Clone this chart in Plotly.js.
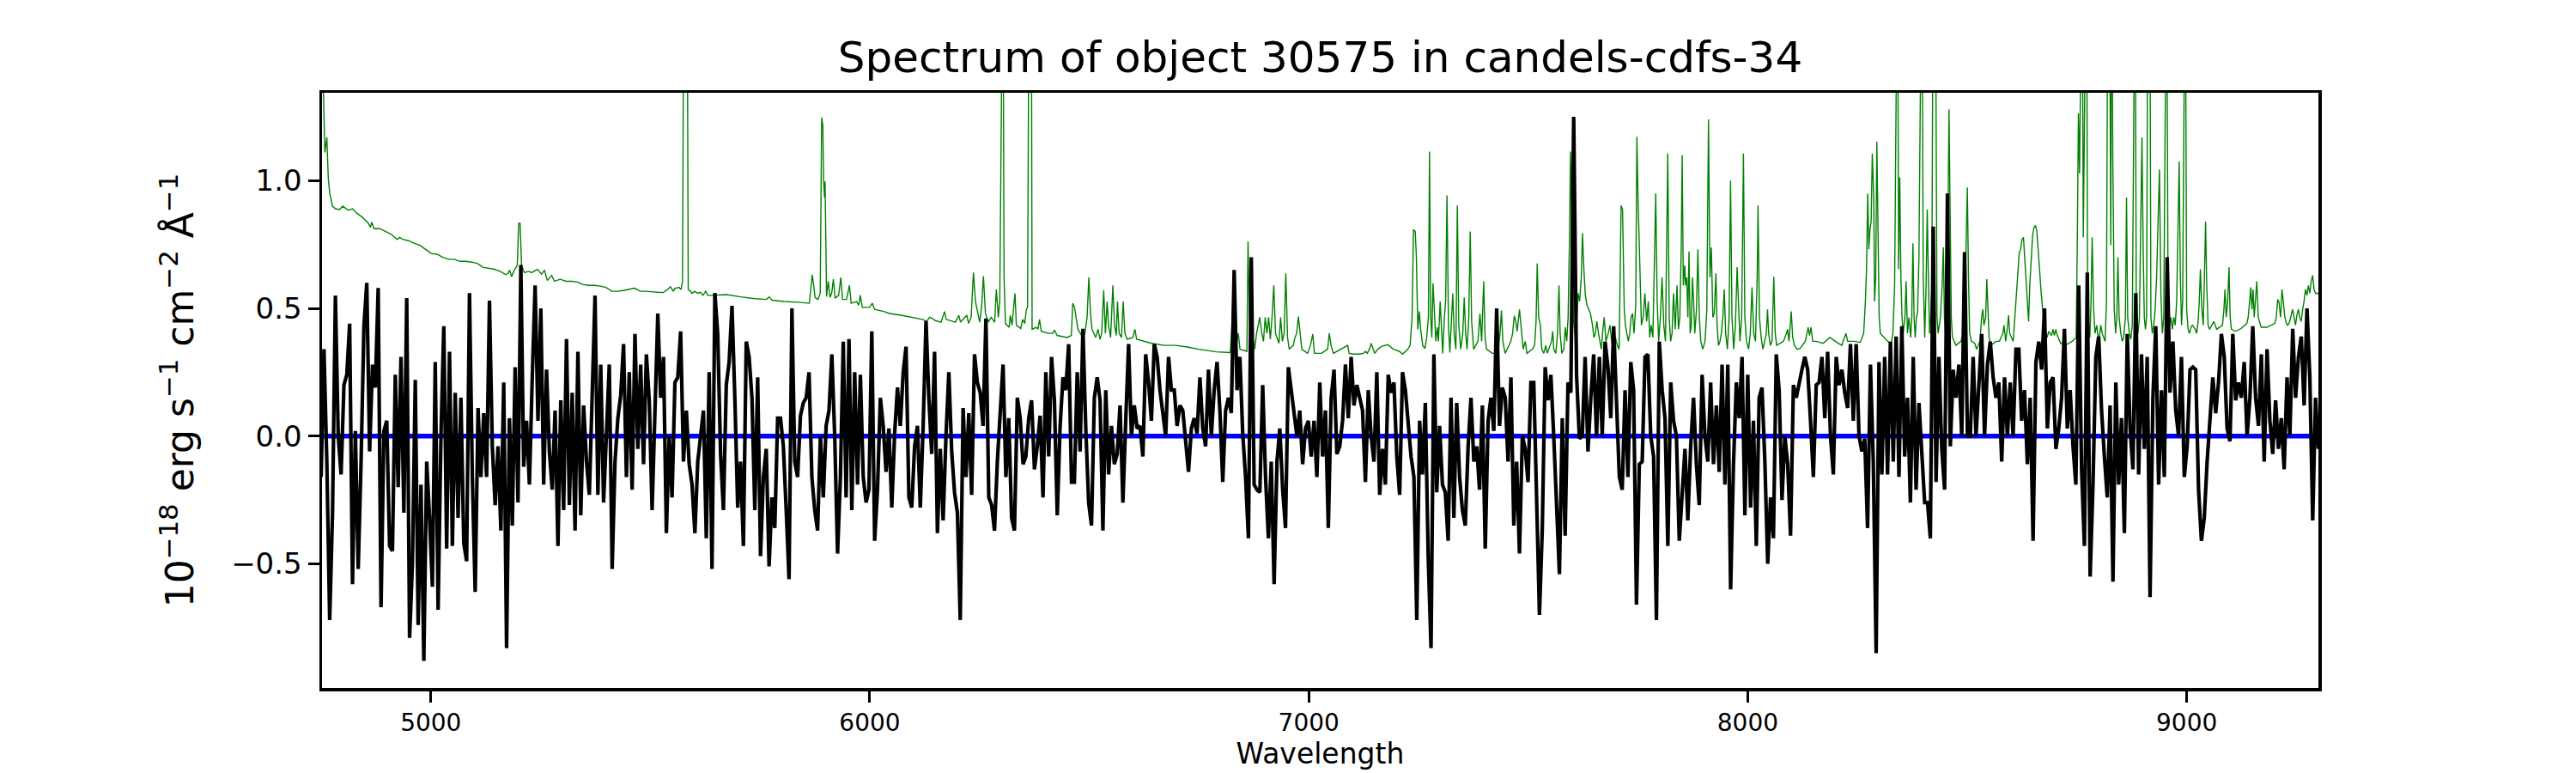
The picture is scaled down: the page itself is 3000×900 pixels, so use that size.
<!DOCTYPE html>
<html>
<head>
<meta charset="utf-8">
<script src="https://cdn.plot.ly/plotly-3.0.1.min.js"></script>
<style>html,body{margin:0;padding:0;background:#fff;}#chart{width:3000px;height:900px;}</style>
</head>
<body>
<div id="chart"></div>
<script>
// ---- data ----
const chartTitle = "Spectrum of object 30575 in candels-cdfs-34";
const xLabel = "Wavelength";
const yLabel = "10<sup>\u221218</sup> erg s<sup>\u22121</sup> cm<sup>\u22122</sup> \u00c5<sup>\u22121</sup>";
const xRange = [4752, 9300];
const yRange = [-0.986, 1.344];
const xTickValues = [5000, 6000, 7000, 8000, 9000];
const yTickValues = [-0.5, 0.0, 0.5, 1.0];

// object flux: uniform wavelength grid starting at fluxStart with spacing fluxStep (Angstrom)
const fluxStart = 4750;
const fluxStep = 6.5;
const objectFlux = [
-0.16,0.34,-0.1,-0.72,-0.3,0.55,0.0,-0.15,0.2,0.24,
0.44,-0.58,0.02,-0.52,-0.1,0.43,0.6,-0.06,0.28,0.19,
0.58,-0.67,0.02,0.06,-0.43,-0.45,0.24,-0.2,0.31,-0.3,
0.54,-0.79,-0.5,0.22,-0.74,-0.19,-0.88,-0.1,-0.32,-0.59,
0.29,-0.68,0.0,0.43,-0.44,0.33,-0.43,0.17,-0.32,0.15,
-0.42,-0.49,0.56,-0.16,-0.61,0.11,-0.16,0.09,-0.16,
0.53,-0.04,-0.27,-0.04,-0.37,0.21,-0.83,0.07,-0.35,0.27,
-0.26,0.67,-0.12,0.06,-0.19,0.23,0.59,0.06,0.5,-0.19,
0.26,-0.06,-0.21,0.1,-0.43,0.14,-0.29,0.38,-0.27,0.17,
-0.37,0.33,-0.31,0.12,-0.1,-0.23,0.2,0.55,-0.23,0.28,
-0.26,0.01,0.28,-0.52,-0.1,0.07,0.16,0.36,-0.16,0.25,
-0.21,0.4,-0.05,0.28,-0.11,0.32,0.14,-0.29,0.07,0.48,
0.15,0.31,-0.38,0,-0.24,0.21,
0.23,0.41,-0.1,0.1,-0.11,-0.19,-0.38,-0.1,0.0,0.1,
-0.4,0.25,-0.52,0.56,0.4,-0.07,-0.29,0.2,0.29,0.51,
0.15,-0.28,-0.1,-0.43,0.37,0.31,0.15,-0.29,0.23,-0.47,
-0.16,-0.05,-0.51,-0.24,-0.36,0.07,0.07,-0.04,-0.29,-0.56,
0.5,-0.1,-0.16,0.08,0.13,0.15,0.25,-0.16,-0.29,-0.37,
0.0,-0.24,0.04,0.1,0.32,0.0,-0.46,-0.16,0.37,-0.24,
0.38,-0.29,0.25,-0.19,0.24,-0.16,-0.26,-0.21,0.41,-0.41,
-0.21,0.15,0.04,-0.14,0.03,-0.28,0.01,0.19,0.04,0.25,
0.35,-0.24,-0.28,-0.04,0.04,-0.28,0.04,0.45,0.15,-0.07,
0.33,-0.38,-0.05,-0.33,0.0,0.25,-0.06,-0.22,-0.3,-0.72,
0.11,-0.16,0.09,-0.23,0.32,0.21,0.17,0.04,0.46,-0.24,
-0.27,-0.37,-0.1,0.07,0.28,-0.16,0.07,-0.32,
-0.37,0.15,0.07,-0.11,-0.08,0.07,0.14,-0.13,-0.04,0.08,
-0.24,0.25,-0.08,0.31,0.14,-0.31,0.04,0.23,0.18,0.36,
-0.18,-0.18,0.25,-0.06,0.42,0.03,-0.26,-0.35,0.15,0.23,
0.14,-0.37,0.18,-0.15,0.04,-0.11,-0.07,0.12,-0.26,0.06,
0.36,0.0,0.12,0.03,0.04,-0.08,0.32,0.21,0.06,0.36,
0.31,0.18,0.1,0.0,0.31,0.18,0.18,0.04,0.12,0.1,
-0.02,-0.14,0.03,0.07,0.01,0.23,0.03,-0.04,0.26,0.0,
0.18,0.29,0.1,-0.18,0.1,0.15,0.09,0.65,0.18,0.31,
0.01,-0.16,-0.4,0.7,-0.19,-0.21,-0.22,0.2,-0.16,-0.4,
-0.1,-0.58,-0.1,0.03,-0.21,-0.36,0.27,0.17,0.09,0.0,
0.1,-0.11,0.03,0.06,-0.08,0.06,-0.16,0.21,-0.08,0.1,
-0.36,0.15,0.26,-0.07,-0.04,0.06,0.28,
0.07,0.31,0.12,0.2,0.15,0.1,-0.18,0.18,0.0,-0.1,
0.25,-0.23,-0.05,-0.19,0.24,0.17,0.21,-0.08,-0.23,0.25,
0.18,0.06,-0.08,-0.16,-0.72,0.06,-0.15,0.13,-0.47,-0.83,
0.32,-0.22,0.04,-0.19,-0.22,-0.41,0.15,-0.32,0.13,-0.16,
-0.29,-0.35,-0.04,0.15,-0.1,-0.04,-0.21,0.12,-0.44,0.06,
0.15,0.02,0.5,0.04,0.19,0.15,-0.1,0.23,-0.35,-0.1,
-0.46,0.0,-0.05,-0.18,0.21,0.21,-0.32,-0.7,-0.36,0.27,
0.14,0.24,0.0,-0.27,-0.54,0.07,-0.39,0.21,0.17,1.25,
0.24,-0.01,0.0,0.31,-0.06,0.15,0.32,0.0,0.31,0.0,
0.37,0.27,0.07,0.43,0.12,-0.16,-0.21,0.18,-0.16,0.29,
0.18,-0.66,-0.11,-0.1,0.31,0.32,0.0,-0.08,-0.72,0.37,
0.18,0.07,-0.43,0.21,0.06,0.0,-0.41,
-0.24,-0.05,-0.33,-0.04,0.15,-0.11,-0.27,0.24,0.0,-0.1,
0.21,-0.11,0.12,-0.14,0.28,-0.19,0.28,-0.6,-0.11,0.21,
0.07,0.31,-0.31,0.24,-0.28,0.06,-0.43,0.15,0.19,-0.1,
-0.5,-0.24,-0.4,0.32,0.18,-0.25,0.0,-0.11,-0.39,0.2,
0.15,0.21,0.26,0.31,0.26,0.06,-0.16,0.2,0.21,0.31,
0.07,0.33,0.0,-0.15,0.31,0.2,0.26,0.17,0.11,0.36,
0.06,0.36,0.0,-0.06,-0.01,-0.36,0.28,-0.1,-0.85,0.29,
-0.15,0.31,-0.15,0.37,-0.1,0.39,-0.16,0.43,-0.08,0.15,
-0.26,0.31,-0.21,0.13,-0.1,-0.26,-0.26,-0.4,0.82,-0.18,
0.31,-0.05,-0.21,0.95,-0.04,0.26,0.15,0.28,0.0,0.72,
0.0,0.0,0.31,0.0,0.2,0.4,0.0,0.28,0.37,0.23,
0.15,0.21,-0.1,0.23,0.0,0.21,0.0,0.34,
0.34,0.06,0.18,-0.11,0.15,-0.41,0.29,0.37,0.26,0.5,
0.03,0.21,0.23,-0.05,0.03,0.15,0.42,0.03,0.18,-0.04,
-0.19,0.59,-0.13,-0.43,0.64,-0.55,-0.19,0.31,0.39,0.1,
-0.08,-0.24,0.12,-0.57,0.21,-0.19,0.07,-0.38,0.4,0.03,
-0.13,0.56,-0.15,0.32,-0.05,0.31,-0.63,0.15,0.43,-0.19,
0.18,-0.16,0.7,0.17,0.37,0.1,0.0,0.31,-0.16,-0.04,
0.26,0.27,0.26,-0.21,-0.41,-0.32,-0.1,0.07,0.23,0.09,
0.21,0.4,0.31,0.03,-0.02,0.4,0.14,0.21,0.15,0.29,
0.0,0.15,0.43,0.15,0.04,0.32,-0.1,0.34,0.06,-0.07,
0.14,-0.05,0.07,-0.13,0.23,0.0,0.42,0.15,0.31,0.39,
0.12,0.5,0.23,-0.33,0.15,-0.05
];

// error / sky spectrum as [wavelength, flux] pairs (values above the top are clipped sky lines)
const errorSpectrum = [
[4750,1.6],[4754.6,1.4],[4758.5,1.11],[4763,1.17],[4766.3,1.01],[4769.6,0.95],[4776,0.9],[4782.6,0.89],
[4792.4,0.887],[4798.9,0.9],[4812,0.884],[4821.7,0.89],[4831.5,0.872],[4844.6,0.856],[4857.6,0.833],
[4862.2,0.817],[4865.4,0.837],[4870.7,0.812],[4883.7,0.812],[4896.8,0.801],[4909.8,0.79],[4922.8,0.77],
[4929,0.778],[4935.9,0.77],[4948.9,0.765],[4962,0.755],[4975,0.747],[4988.1,0.731],[5001.1,0.715],
[5014.2,0.712],[5027.2,0.7],[5040.3,0.692],[5053.3,0.692],[5066.4,0.684],[5079.4,0.684],[5092.4,0.681],
[5105.5,0.676],[5118.5,0.661],[5131.6,0.656],[5144.6,0.653],[5157.7,0.645],[5170.7,0.632],[5176,0.637],
[5179.2,0.65],[5183.8,0.624],[5190.3,0.65],[5196.8,0.668],[5200.1,0.833],[5203.3,0.833],[5206.6,0.668],
[5213.1,0.64],[5222.9,0.645],[5229.4,0.64],[5242.5,0.653],[5252.3,0.634],[5258.8,0.65],[5265.3,0.609],
[5275.1,0.629],[5281.6,0.606],[5294.7,0.614],[5307.7,0.606],[5320.7,0.606],[5333.8,0.603],[5346.8,0.593],
[5359.9,0.59],[5372.9,0.59],[5386,0.587],[5399,0.582],[5412,0.567],[5425.1,0.567],[5438.2,0.57],
[5451.2,0.574],[5464.2,0.579],[5477.3,0.567],[5490.3,0.567],[5516.4,0.563],[5529.5,0.562],[5539.3,0.574],
[5545.8,0.585],[5552.3,0.567],[5555.6,0.578],[5565.4,0.582],[5570,0.574],[5573.3,0.606],[5576.5,2.0],
[5583.7,2.0],[5586.3,0.574],[5591.5,0.567],[5594.8,0.559],[5601.3,0.567],[5607.8,0.559],[5614.4,0.563],
[5619.6,0.551],[5626.1,0.567],[5630.7,0.551],[5640.4,0.551],[5673.1,0.554],[5705.7,0.545],[5738.3,0.538],
[5764.4,0.535],[5770.9,0.545],[5777.4,0.532],[5803.5,0.527],[5836.1,0.524],[5855.7,0.52],[5862.2,0.52],
[5865.5,0.574],[5868.8,0.632],[5872,0.59],[5875.3,0.543],[5881.8,0.535],[5887,0.559],[5890.3,1.247],
[5892.9,1.216],[5894.8,0.997],[5896.8,0.934],[5898.1,0.997],[5901.4,0.546],[5905.3,0.606],[5909.2,0.543],
[5913.1,0.559],[5917,0.614],[5920.9,0.54],[5928.8,0.551],[5934,0.621],[5937.9,0.535],[5947,0.535],
[5953.6,0.59],[5957.5,0.52],[5969.9,0.527],[5974.4,0.512],[5978.3,0.551],[5982.9,0.504],[5999.2,0.504],
[6005.7,0.52],[6011,0.496],[6031.8,0.488],[6044.8,0.48],[6070.9,0.473],[6097.1,0.465],[6119.9,0.457],
[6129.7,0.449],[6136.2,0.465],[6142.7,0.46],[6149.2,0.452],[6162.3,0.446],[6170.1,0.488],[6174,0.457],
[6194.9,0.446],[6202.7,0.473],[6206.6,0.446],[6221,0.473],[6224.9,0.441],[6230.8,0.465],[6236,0.64],
[6240.6,0.527],[6250.4,0.446],[6254.9,0.512],[6258.8,0.626],[6263.4,0.48],[6269.9,0.446],[6276.4,0.465],
[6284.3,0.446],[6288.2,0.574],[6292.7,0.465],[6296,0.527],[6299.3,2.0],[6303.2,2.0],[6305.8,0.621],
[6309,0.44],[6317.5,0.426],[6320.1,0.473],[6324,0.434],[6330.6,0.559],[6333.9,0.434],[6343.6,0.421],
[6348.2,0.457],[6352.8,0.441],[6356.7,0.496],[6359.3,0.504],[6363.2,2.0],[6367.8,2.0],[6369.7,0.418],
[6378.9,0.426],[6382.8,0.418],[6386.7,0.457],[6390.6,0.41],[6406.9,0.402],[6416.7,0.402],[6420.6,0.415],
[6426.5,0.394],[6449.3,0.386],[6459.1,0.394],[6462.3,0.52],[6466.3,0.504],[6470.2,0.465],[6474.1,0.418],
[6485.2,0.386],[6489.8,0.402],[6495,0.465],[6498.9,0.621],[6502.8,0.48],[6506.1,0.418],[6514.6,0.386],
[6519.8,0.418],[6524.3,0.379],[6528.2,0.402],[6532.8,0.571],[6536.7,0.402],[6540.6,0.527],[6543.9,0.434],
[6548.5,0.386],[6553.7,0.59],[6557.6,0.434],[6561.5,0.394],[6564.1,0.527],[6568,0.402],[6573.2,0.386],
[6577.2,0.527],[6581.1,0.402],[6586.3,0.379],[6599.3,0.386],[6603.9,0.418],[6607.8,0.379],[6625.4,0.371],
[6641.7,0.363],[6671.1,0.355],[6697.2,0.355],[6723.3,0.349],[6749.4,0.34],[6788.5,0.33],[6814.6,0.327],
[6821.1,0.327],[6824.4,0.418],[6827.6,0.567],[6831.6,0.465],[6835.5,0.363],[6839.4,0.402],[6843.3,0.34],
[6859,0.332],[6861.6,0.762],[6864.8,0.465],[6868.1,0.355],[6872,0.386],[6876.6,0.34],[6881.1,0.402],
[6885,0.434],[6888.3,0.465],[6892.9,0.402],[6896.8,0.371],[6900.7,0.465],[6904.6,0.402],[6908.5,0.465],
[6912.4,0.379],[6916.4,0.468],[6920.3,0.59],[6924.2,0.402],[6932,0.363],[6935.9,0.465],[6939.8,0.371],
[6943.8,0.402],[6947.7,0.637],[6951.6,0.386],[6955.5,0.34],[6964.6,0.355],[6968.5,0.386],[6972.4,0.402],
[6976.4,0.468],[6980.3,0.402],[6984.2,0.34],[6997.2,0.324],[7003.8,0.355],[7009,0.399],[7012.9,0.324],
[7029.2,0.324],[7042.9,0.34],[7046.8,0.402],[7050.7,0.355],[7056,0.324],[7072.3,0.34],[7088.6,0.355],
[7092,0.324],[7101.6,0.321],[7114.7,0.321],[7124.4,0.324],[7129,0.332],[7133,0.324],[7138.1,0.34],
[7142.1,0.363],[7146,0.343],[7150.5,0.324],[7157.1,0.34],[7166.8,0.352],[7179.9,0.358],[7192.9,0.34],
[7206,0.332],[7213.8,0.321],[7225.5,0.34],[7230.8,0.355],[7235.3,0.465],[7238.6,0.809],[7242.5,0.801],
[7245.1,0.7],[7248.4,0.418],[7251.6,0.488],[7254.9,0.418],[7259.5,0.355],[7264.7,0.343],[7268.6,0.386],
[7272.5,0.465],[7275.1,1.114],[7277.7,0.465],[7280.3,0.386],[7283,0.598],[7286.2,0.465],[7289.5,0.371],
[7292.7,0.426],[7295.3,0.371],[7299.3,0.527],[7302.5,0.402],[7305.1,0.324],[7309,0.465],[7311.7,0.527],
[7314.9,0.942],[7318.2,0.434],[7321.4,0.327],[7324.7,0.465],[7328,0.559],[7331.2,0.402],[7335.1,0.34],
[7338.4,0.903],[7341.7,0.434],[7346.2,0.34],[7350.8,0.402],[7354.1,0.543],[7357.3,0.402],[7360.6,0.34],
[7364.5,0.465],[7367.8,0.801],[7371,0.449],[7375.6,0.34],[7385.4,0.371],[7389.9,0.48],[7393.8,0.371],
[7398.4,0.606],[7401.7,0.386],[7404.9,0.34],[7418,0.324],[7431,0.324],[7435.6,0.402],[7438.9,0.492],
[7442.1,0.371],[7447.3,0.324],[7460.4,0.371],[7464.3,0.402],[7468.2,0.471],[7471.5,0.449],[7474.7,0.41],
[7480,0.496],[7484.5,0.402],[7488.4,0.34],[7493,0.371],[7496.9,0.324],[7509.3,0.34],[7514.5,0.355],
[7517.8,0.449],[7520.4,0.676],[7523.6,0.465],[7527.6,0.434],[7530.8,0.34],[7535.4,0.324],[7540,0.355],
[7543.2,0.324],[7553,0.371],[7555.6,0.41],[7558.2,0.34],[7562.8,0.324],[7566.7,0.402],[7570,0.59],
[7572.6,0.402],[7576.5,0.324],[7581.1,0.34],[7584.3,0.426],[7587.6,0.371],[7590.8,0.465],[7594.1,0.794],
[7596.1,1.114],[7598.7,0.856],[7602.6,0.465],[7607.1,0.386],[7610.4,0.449],[7613.7,0.559],[7616.9,0.527],
[7620.8,0.621],[7623.5,0.794],[7626.7,0.653],[7630,0.551],[7633.9,0.512],[7637.8,0.496],[7641.7,0.48],
[7646.3,0.434],[7649.5,0.386],[7652.8,0.402],[7656.1,0.449],[7660,0.402],[7663.9,0.371],[7666.5,0.34],
[7669.1,0.402],[7673,0.465],[7676.9,0.371],[7682.2,0.402],[7686.1,0.434],[7690,0.371],[7693.9,0.34],
[7698.5,0.386],[7703,0.355],[7707,0.34],[7711.5,0.903],[7714.8,0.887],[7718.7,0.496],[7721.3,0.434],
[7724.6,0.402],[7727.8,0.371],[7731.1,0.402],[7734.3,0.465],[7737.6,0.48],[7740.9,0.402],[7744.8,0.512],
[7747.4,1.172],[7750,0.934],[7753.9,0.653],[7757.8,0.434],[7761.7,0.465],[7765.7,0.559],[7769.6,0.449],
[7773.5,0.527],[7776.7,0.386],[7780,0.434],[7783.9,0.386],[7787.2,0.621],[7790.4,0.95],[7793.7,0.527],
[7797,0.371],[7800.9,0.465],[7804.8,0.621],[7808.7,0.434],[7812.6,0.371],[7817.8,1.106],[7821.1,0.465],
[7824.3,0.371],[7827.6,0.402],[7830.9,0.559],[7834.8,0.418],[7838.8,0.59],[7842.1,0.418],[7845.3,0.465],
[7848.6,0.747],[7850.6,1.099],[7853.2,0.59],[7856.4,0.668],[7858.4,0.59],[7861,0.621],[7863.6,0.465],
[7866.2,0.723],[7868.8,0.402],[7871.4,0.434],[7874.1,0.621],[7876.7,0.527],[7879.3,0.402],[7883.2,0.496],
[7886.4,0.731],[7889.7,0.465],[7893,0.371],[7897.5,0.34],[7902.7,0.371],[7906.7,0.496],[7910.6,1.24],
[7913.8,0.621],[7917.1,0.739],[7920.4,0.465],[7923.6,0.48],[7927.5,0.637],[7930.1,0.434],[7933.4,0.355],
[7936.7,0.371],[7939.9,0.402],[7943.2,0.465],[7946.5,0.574],[7949.7,0.402],[7953.6,0.34],[7957.5,0.465],
[7960.8,1.0],[7964.1,0.465],[7968,0.34],[7971.9,0.434],[7975.8,0.661],[7979.1,0.496],[7982.3,0.371],
[7986.2,0.465],[7990.2,1.106],[7993.4,0.465],[7997.3,0.371],[8001.9,0.34],[8005.8,0.402],[8009.7,0.582],
[8013.6,0.402],[8017.6,0.371],[8021.5,0.621],[8023.4,0.903],[8026.7,0.465],[8030.6,0.386],[8034.5,0.34],
[8038.4,0.371],[8042.3,0.402],[8045,0.496],[8047.6,0.402],[8051.5,0.355],[8055.4,0.371],[8059.3,0.624],
[8062.6,0.402],[8065.8,0.355],[8073.7,0.363],[8081.5,0.371],[8088,0.402],[8090.6,0.418],[8093.9,0.371],
[8096.5,0.449],[8099.1,0.488],[8102.4,0.386],[8106.3,0.355],[8112.8,0.34],[8119.3,0.343],[8131.1,0.371],
[8134.3,0.402],[8137.6,0.426],[8140.8,0.394],[8144.1,0.426],[8148,0.371],[8155.8,0.371],[8171.5,0.363],
[8187.2,0.386],[8202.8,0.367],[8214.5,0.355],[8217.2,0.371],[8221.1,0.386],[8223.7,0.402],[8227.6,0.371],
[8243.3,0.371],[8256.3,0.367],[8260.2,0.386],[8264.1,0.402],[8268,0.527],[8270.6,0.653],[8273.3,0.95],
[8275.9,0.731],[8278.5,0.809],[8281.1,0.84],[8283.7,1.106],[8287,0.934],[8288.9,0.527],[8291.5,0.621],
[8294.1,1.153],[8296.7,0.778],[8299.4,0.465],[8302,0.402],[8309.8,0.386],[8318.9,0.371],[8326.7,0.363],
[8330.7,0.402],[8334.6,0.59],[8338.5,2.0],[8341.1,2.0],[8343.7,0.653],[8346.3,1.013],[8348.9,0.621],
[8351.5,0.465],[8354.1,0.402],[8358.1,0.465],[8360.7,0.606],[8363.9,0.402],[8367.2,0.465],[8371.1,0.386],
[8373.7,0.465],[8376.3,0.755],[8378.9,0.465],[8381.5,0.386],[8384.2,0.465],[8386.8,0.48],[8390,0.7],
[8393.3,2.0],[8396.5,2.0],[8399.8,0.621],[8403.1,0.386],[8406.3,0.59],[8408.9,0.887],[8411.5,0.621],
[8414.2,0.402],[8416.8,0.465],[8419.4,0.59],[8422.6,2.0],[8427.2,2.0],[8431.1,0.465],[8433.7,0.402],
[8436.3,0.434],[8438.9,0.465],[8442.8,0.59],[8445.5,0.739],[8448.1,0.465],[8450.7,0.386],[8453.3,0.465],
[8455.9,0.778],[8458.5,1.279],[8461.1,0.934],[8463.7,0.465],[8466.4,0.386],[8474.2,0.355],[8485.9,0.371],
[8489.8,0.402],[8493.8,0.465],[8497.7,0.856],[8500.3,0.973],[8502.9,0.621],[8505.5,0.402],[8509.4,0.371],
[8517.2,0.363],[8521.1,0.34],[8525.1,0.355],[8529,0.371],[8532.9,0.465],[8535.5,0.496],[8538.1,0.434],
[8542,0.465],[8544.6,0.614],[8547.2,0.465],[8549.8,0.386],[8553.8,0.355],[8565.5,0.371],[8573.3,0.371],
[8581.1,0.402],[8583.7,0.434],[8587.7,0.371],[8591.6,0.426],[8594.2,0.473],[8596.8,0.402],[8600.7,0.386],
[8604.6,0.371],[8608.5,0.465],[8612.4,0.574],[8615.1,0.637],[8618.3,0.715],[8621.6,0.731],[8624.8,0.77],
[8628.1,0.778],[8631.3,0.684],[8634.6,0.574],[8637.9,0.465],[8639.8,0.449],[8642.4,0.59],[8645.7,0.715],
[8649,0.786],[8652.2,0.817],[8655.5,0.825],[8658.7,0.801],[8662,0.715],[8665.3,0.606],[8668.5,0.559],
[8671.8,0.496],[8675,0.441],[8679,0.402],[8682.2,0.386],[8685.5,0.41],[8688.8,0.402],[8692,0.394],
[8695.3,0.418],[8698.5,0.394],[8701.8,0.418],[8705.1,0.394],[8712.9,0.363],[8725.9,0.358],[8739,0.371],
[8748.1,0.386],[8750.7,0.747],[8753.3,1.263],[8755.9,1.028],[8758.5,2.0],[8761.8,2.0],[8764.4,0.778],
[8767,2.0],[8771.6,2.0],[8774.2,0.621],[8776.8,0.434],[8779.4,0.386],[8782,0.527],[8784.6,0.778],
[8787.9,0.496],[8791.2,0.402],[8795.1,0.434],[8797.7,0.394],[8800.9,0.386],[8804.2,0.434],[8807.5,0.402],
[8814,0.371],[8817.3,0.527],[8820.5,2.0],[8823.8,2.0],[8827,0.747],[8829,2.0],[8831.6,1.091],
[8834.9,0.496],[8838.1,0.402],[8840.7,0.465],[8843.3,0.7],[8846,0.465],[8849.9,0.402],[8853.1,0.371],
[8856.4,0.386],[8860.3,0.465],[8862.9,0.934],[8865.5,0.465],[8869.4,0.402],[8872.7,0.379],[8876,0.434],
[8879.2,2.0],[8882.5,2.0],[8885.1,0.465],[8889,0.402],[8892.3,0.465],[8895.5,0.903],[8898.1,1.169],
[8900.7,0.747],[8903.4,0.465],[8906,0.418],[8908.6,0.465],[8911.8,2.0],[8915.8,2.0],[8918.4,0.465],
[8921.6,0.402],[8924.9,0.434],[8928.1,0.496],[8931.4,0.621],[8934.7,0.887],[8937.9,1.044],[8941.2,0.559],
[8944.5,0.402],[8947.7,0.465],[8951,2.0],[8954.2,2.0],[8957.5,0.527],[8960.8,0.434],[8964,0.465],
[8967.3,0.418],[8970.6,0.465],[8973.8,0.434],[8977.1,0.527],[8980.3,0.84],[8982.9,1.075],[8985.5,0.621],
[8988.2,0.434],[8990.8,0.527],[8993.4,2.0],[8996.6,2.0],[8999.9,0.496],[9003.2,0.418],[9006.4,0.402],
[9009.7,0.426],[9012.9,0.434],[9019.5,0.418],[9022.7,0.402],[9026,0.449],[9028.6,0.527],[9031.2,0.653],
[9034.5,0.496],[9037.7,0.434],[9040.3,0.621],[9042.9,0.84],[9045.6,0.59],[9048.8,0.434],[9052.1,0.418],
[9061.9,0.449],[9068.4,0.418],[9081.4,0.434],[9084.7,0.496],[9087.3,0.574],[9089.9,0.465],[9093.2,0.527],
[9096.4,0.661],[9099,0.465],[9101.7,0.418],[9110.8,0.41],[9123.8,0.421],[9136.9,0.441],[9140.1,0.465],
[9143.4,0.543],[9146,0.582],[9148.6,0.496],[9151.2,0.574],[9153.8,0.465],[9156.4,0.527],[9159.7,0.606],
[9163,0.465],[9169.5,0.426],[9182.5,0.426],[9195.6,0.437],[9200.8,0.441],[9204.1,0.465],[9207.3,0.535],
[9209.9,0.527],[9213.9,0.465],[9217.1,0.574],[9220.4,0.512],[9223.6,0.465],[9226.9,0.441],[9230.2,0.434],
[9234.7,0.449],[9238.6,0.48],[9241.2,0.496],[9244.5,0.465],[9247.8,0.434],[9251,0.473],[9254.3,0.496],
[9257.5,0.465],[9260.8,0.449],[9264.1,0.496],[9267.3,0.527],[9270.6,0.574],[9273.9,0.551],[9277.1,0.59],
[9280.4,0.559],[9283.6,0.606],[9286.9,0.629],[9290.1,0.574],[9293.4,0.559],[9299.9,0.559]
];

const zeroLevel = [0, 0];

// ---- build traces ----
const fluxWave = objectFlux.map((_, i) => fluxStart + i * fluxStep);
const errWave = errorSpectrum.map(p => p[0]);
const errFlux = errorSpectrum.map(p => p[1]);

const font = "DejaVu Sans, Liberation Sans, sans-serif";
const traces = [
  {x: errWave, y: errFlux, type: "scatter", mode: "lines",
   line: {color: "#008000", width: 1.4}, hoverinfo: "skip"},
  {x: xRange, y: zeroLevel, type: "scatter", mode: "lines",
   line: {color: "#0000ff", width: 5.5}, hoverinfo: "skip"},
  {x: fluxWave, y: objectFlux, type: "scatter", mode: "lines",
   line: {color: "#000000", width: 4.2}, hoverinfo: "skip"}
];

const layout = {
  width: 3000, height: 900,
  margin: {l: 375, r: 300, t: 108, b: 99, pad: 0},
  paper_bgcolor: "#ffffff", plot_bgcolor: "#ffffff",
  showlegend: false,
  font: {family: font, color: "#000000"},
  title: {text: chartTitle, font: {family: font, size: 50, color: "#000000"},
          x: 0.5, xref: "paper", xanchor: "center", y: 1 - 66/900, yref: "container", yanchor: "middle"},
  xaxis: {
    range: xRange, tickvals: xTickValues, ticktext: xTickValues.map(String),
    ticks: "outside", ticklen: 13, tickwidth: 3, tickcolor: "#000",
    showline: true, linecolor: "#000", linewidth: 3.5, mirror: true,
    showgrid: false, zeroline: false,
    tickfont: {family: font, size: 28, color: "#000"},
    title: {text: xLabel, font: {family: font, size: 33, color: "#000"}, standoff: 4}
  },
  yaxis: {
    range: yRange, tickvals: yTickValues, ticktext: yTickValues.map(v => (v < 0 ? "\u2212" : "") + Math.abs(v).toFixed(1)),
    ticks: "outside", ticklen: 13, tickwidth: 3, tickcolor: "#000",
    showline: true, linecolor: "#000", linewidth: 3.5, mirror: true,
    showgrid: false, zeroline: false,
    tickfont: {family: font, size: 34, color: "#000"},
    title: {text: yLabel, font: {family: font, size: 44, color: "#000"}, standoff: 30}
  }
};

Plotly.newPlot("chart", traces, layout, {staticPlot: true, displayModeBar: false});
</script>
</body>
</html>
